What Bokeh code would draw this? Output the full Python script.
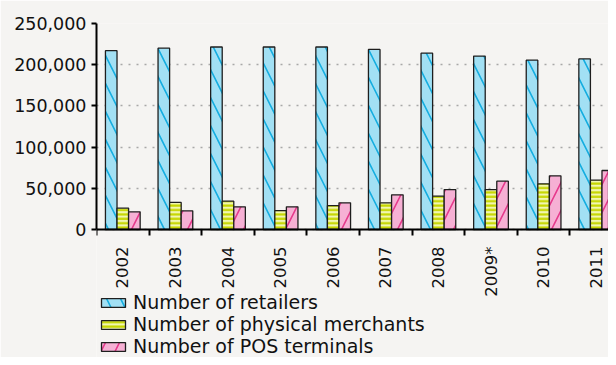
import math
from bokeh.plotting import figure
from bokeh.models import (Range1d, FixedTicker, NumeralTickFormatter, Legend,
                          LegendItem, ColumnDataSource)
from bokeh.transform import dodge
from bokeh.embed import file_html
from bokeh.resources import INLINE

years = ["2002", "2003", "2004", "2005", "2006", "2007", "2008", "2009*", "2010", "2011"]
retailers = [217000, 220000, 221500, 221500, 221500, 218500, 214000, 210500, 205500, 207000]
merchants = [26000, 32800, 34400, 23000, 29000, 32400, 40500, 48500, 55400, 60000]
pos_terminals = [21500, 22700, 27500, 27500, 32400, 42100, 48500, 58700, 65100, 71600]
series_names = ["Number of retailers", "Number of physical merchants", "Number of POS terminals"]
y_ticks = [0, 50000, 100000, 150000, 200000, 250000]

BG = "#f5f4f2"
W, H = 608, 357
TOP, LEFT = 23, 96
ZERO_Y = 229          # screen row of value 0
Y_MAX = 250000
px_per_val = (ZERO_Y - TOP) / Y_MAX
y_start = -(H - ZERO_Y) / px_per_val
cat_px = 52.6
x_end = -0.5 + (W - LEFT) / cat_px

idx = list(range(len(years)))
src = ColumnDataSource(dict(idx=idx, retailers=retailers, merchants=merchants,
                            pos=pos_terminals))

p = figure(width=W, height=H, output_backend="svg", toolbar_location=None,
           x_range=Range1d(-0.5, x_end), y_range=Range1d(y_start, Y_MAX),
           min_border_left=LEFT, min_border_right=0, min_border_top=TOP,
           min_border_bottom=0)
p.background_fill_color = BG
p.border_fill_color = BG
p.outline_line_color = None

p.xgrid.grid_line_color = None
p.ygrid.grid_line_color = "#a8a8a8"
p.ygrid.grid_line_width = 1.5
p.ygrid.grid_line_dash = "2 6"

bw = 0.22
r1 = p.vbar(x=dodge("idx", -0.22), top="retailers", width=bw, source=src,
            fill_color="#a2e0f4", line_color="#1e1e1e", line_width=1.3,
            hatch_pattern="\\", hatch_color="#14ade0", hatch_scale=28, hatch_weight=1.6)
r2 = p.vbar(x=dodge("idx", 0.0), top="merchants", width=bw, source=src,
            fill_color="#f1f6b0", line_color="#1e1e1e", line_width=1.3,
            hatch_pattern="-", hatch_color="#c6d600", hatch_scale=4.4, hatch_weight=2.2)
r3 = p.vbar(x=dodge("idx", 0.22), top="pos", width=bw, source=src,
            fill_color="#f6b0d4", line_color="#1e1e1e", line_width=1.3,
            hatch_pattern="/", hatch_color="#e6388b", hatch_scale=28, hatch_weight=1.6)

# y axis
ya = p.yaxis[0]
ya.ticker = FixedTicker(ticks=y_ticks)
ya.bounds = (0, Y_MAX)
ya.formatter = NumeralTickFormatter(format="0,0")
ya.axis_line_color = "black"
ya.axis_line_width = 2
ya.major_tick_line_color = "black"
ya.major_tick_line_width = 2
ya.major_tick_out = 5
ya.major_tick_in = 0
ya.minor_tick_line_color = None
ya.major_label_standoff = 5
ya.major_label_text_font = "DejaVu Sans"
ya.major_label_text_font_size = "17.5px"
ya.major_label_text_color = "#111111"

# x axis (fixed at value 0 so the frame can host the legend below it)
xa = p.xaxis[0]
xa.fixed_location = 0
xa.ticker = FixedTicker(ticks=idx, minor_ticks=[i - 0.5 for i in range(len(years) + 1)])
xa.major_label_overrides = {i: y for i, y in enumerate(years)}
xa.major_label_orientation = math.pi / 2
xa.axis_line_color = "black"
xa.axis_line_width = 2
xa.major_tick_line_color = None
xa.major_tick_out = 0
xa.major_tick_in = 0
xa.minor_tick_line_color = "black"
xa.minor_tick_line_width = 2
xa.minor_tick_out = 6
xa.minor_tick_in = 0
xa.major_label_standoff = 11
xa.major_label_text_font = "DejaVu Sans"
xa.major_label_text_font_size = "16.5px"
xa.major_label_text_color = "#111111"

legend = Legend(items=[LegendItem(label=series_names[0], renderers=[r1]),
                       LegendItem(label=series_names[1], renderers=[r2]),
                       LegendItem(label=series_names[2], renderers=[r3])],
                location=(2, 0), orientation="vertical",
                glyph_width=30, glyph_height=11, label_standoff=5, spacing=0,
                label_height=20, padding=0, margin=0, label_text_font="DejaVu Sans",
                label_text_font_size="19px", label_text_color="#111111",
                background_fill_alpha=0, border_line_color=None)
p.add_layout(legend, "center")

open("out.html", "w").write(file_html(p, INLINE))
